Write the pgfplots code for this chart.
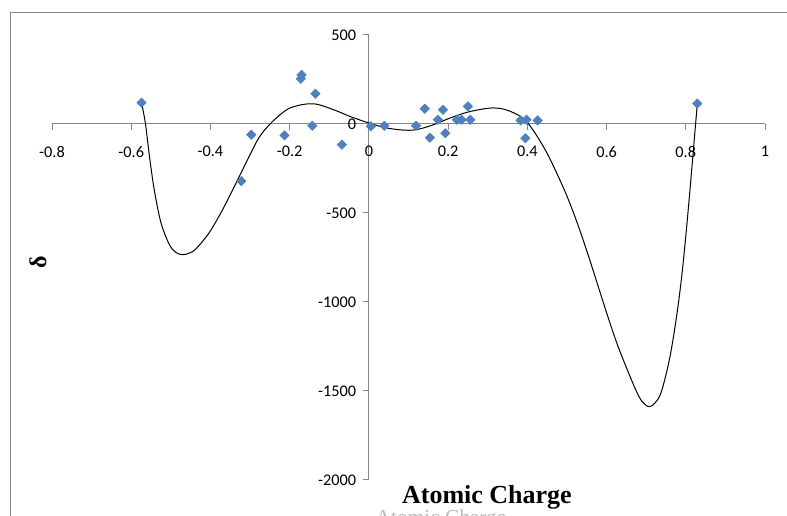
\documentclass[border=0pt]{standalone}
\usepackage{fontspec}
\setmainfont{Carlito}
\newfontfamily\serifface{Liberation Serif}
\usepackage{pgfplots}
\usepackage{pgfplotstable}
\pgfplotsset{compat=1.18}
\definecolor{axisgray}{HTML}{868686}
\definecolor{markblue}{HTML}{4F81BD}

% measured shifts per atomic charge
\pgfplotstableread{
q       d
-0.574  120
-0.322  -321
-0.297  -60
-0.213  -64
-0.172  254
-0.170  276
-0.143  -10
-0.135  170
-0.068  -116
0.005   -13
0.039   -10
0.119   -10
0.141   86
0.154   -77
0.174   24
0.187   80
0.193   -52
0.222   24
0.234   24
0.250   99
0.256   24
0.383   20
0.395   -80
0.398   24
0.426   20
0.829   115
}\shifts

% polynomial trend line, tabulated
\pgfplotstableread{
q       d
-0.573  110
-0.564  0
-0.554  -181
-0.542  -368
-0.525  -554
-0.504  -676
-0.487  -722
-0.470  -734
-0.453  -725
-0.436  -700
-0.403  -610
-0.369  -480
-0.335  -330
-0.302  -181
-0.277  -75
-0.247  6
-0.209  78
-0.185  100
-0.159  112
-0.129  110
-0.083  75
-0.045  40
0.001   5
0.040   -20
0.085   -34
0.119   -32
0.161   -6
0.203   32
0.245   64
0.287   84
0.317   90
0.346   80
0.380   46
0.401   6
0.425   -70
0.450   -165
0.475   -280
0.500   -405
0.525   -550
0.550   -712
0.575   -885
0.600   -1060
0.625   -1225
0.650   -1368
0.675   -1500
0.690   -1560
0.707   -1588
0.722   -1568
0.738   -1506
0.759   -1320
0.777   -1077
0.790   -850
0.800   -630
0.809   -410
0.820   -125
0.829   112
}\trend

\begin{document}
\begin{tikzpicture}
\useasboundingbox (0,0) rectangle (590.25pt,387pt);
\draw[color=axisgray, line width=0.75pt] (7.5pt,-5pt) -- (7.5pt,377.25pt) -- (600pt,377.25pt);
\begin{axis}[
  at={(39pt,27pt)}, anchor=south west,
  scale only axis, width=534.75pt, height=333.75pt,
  xmin=-0.8, xmax=1, ymin=-2000, ymax=500,
  axis lines=middle,
  hide obscured x ticks=false, hide obscured y ticks=false,
  axis line style={axisgray, line width=0.75pt, -},
  xtick={-0.8,-0.6,-0.4,-0.2,0,0.2,0.4,0.6,0.8,1},
  xticklabels={-0.8,-0.6,-0.4,-0.2,0,0.2,0.4,0.6,0.8,1},
  ytick={-2000,-1500,-1000,-500,0,500},
  yticklabels={-2000,-1500,-1000,-500,0,500},
  tick align=outside,
  major tick length=4.5pt,
  tick style={axisgray, line width=0.75pt},
  ticklabel style={font=\fontsize{12.2}{14}\selectfont, text=black},
  xticklabel style={yshift=-8.5pt},
  yticklabel style={xshift=-1.5pt},
  xlabel={Atomic Charge},
  xlabel style={at={(axis description cs:0.610,-0.0517)}, anchor=base,
    font=\serifface\bfseries\fontsize{19.5}{22}\selectfont},
  ylabel={δ},
  ylabel style={at={(axis description cs:-0.0196,0.49)}, anchor=center, rotate=90,
    font=\serifface\bfseries\fontsize{18}{20}\selectfont},
  clip=false,
]
\addplot[black, line width=0.75pt, smooth, tension=0.55] table[x=q, y=d] {\trend};
\addplot[only marks, mark=square*, mark size=2.5pt,
  mark options={rotate=45, fill=markblue, draw=markblue}] table[x=q, y=d] {\shifts};
\end{axis}
\node[anchor=north, inner sep=0pt, text=gray!55,
  font=\serifface\fontsize{16}{18}\selectfont] at (330.75pt,5.25pt) {Atomic Charge};
\end{tikzpicture}
\end{document}
